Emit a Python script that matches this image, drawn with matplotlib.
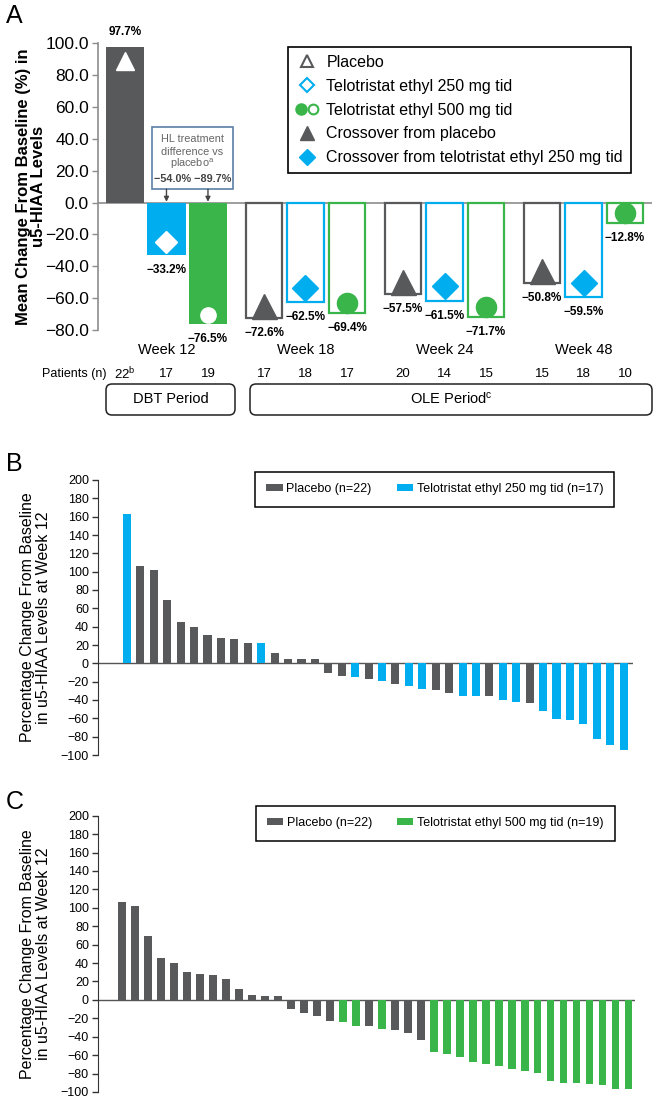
import numpy as np
import matplotlib.pyplot as plt
from matplotlib import transforms
from matplotlib.lines import Line2D
from matplotlib.patches import Patch, Rectangle, FancyBboxPatch
from matplotlib.legend_handler import HandlerTuple
from matplotlib.ticker import MultipleLocator, FuncFormatter

plt.rcParams['font.family'] = ['Liberation Sans', 'DejaVu Sans']
plt.rcParams['mathtext.default'] = 'regular'

gray = '#58595b'
blue = '#00aeef'
green = '#39b54a'

# panel A: mean change from baseline by visit
weeks = ['Week 12', 'Week 18', 'Week 24', 'Week 48']
placebo_mean = [97.7, -72.6, -57.5, -50.8]
tel250_mean = [-33.2, -62.5, -61.5, -59.5]
tel500_mean = [-76.5, -69.4, -71.7, -12.8]
patients_n = ['22$^b$', '17', '19', '17', '18', '17', '20', '14', '15', '15', '18', '10']
hl_diff = ['\u221254.0%', '\u221289.7%']
legend_a = ['Placebo', 'Telotristat ethyl 250 mg tid', 'Telotristat ethyl 500 mg tid',
            'Crossover from placebo', 'Crossover from telotristat ethyl 250 mg tid']

# panels B/C: individual patients at week 12
placebo_wf = [106, 102, 69, 45, 40, 30.5, 28, 27, 22.5, 11.5, 5, 4.3, 4.3,
              -10, -14.3, -17.5, -23, -28.6, -32.6, -36, -43.5]
tel250_wf = [163, 22.5, -15, -19, -24.4, -28.4, -35.3, -35.3, -40, -42,
             -51.6, -60.7, -61.8, -66, -83, -89, -94]
tel500_wf = [-23.9, -28.2, -31.1, -56.8, -59, -62.2, -66.9, -69.8, -72, -74.5,
             -76.7, -79.6, -87.9, -90.4, -90.4, -91.1, -92.6, -96.9, -96.9]


def fmt(v):
    return f'{v:.1f}%'.replace('-', '\u2212')


W, H = 654, 1100
fig = plt.figure(figsize=(W / 100, H / 100), dpi=100)


def px_axes(x0, x1, ytop, ybot):
    return [x0 / W, 1 - ybot / H, (x1 - x0) / W, (ybot - ytop) / H]


# ---------------- panel A
axA = fig.add_axes(px_axes(98, 652, 43.3, 330))
gap = 3.35
arms = [(placebo_mean, gray, '^'), (tel250_mean, blue, 'D'), (tel500_mean, green, 'o')]
mk_dbt = {'^': (13, 9.8), 'D': (11, 9.6), 'o': (11, 6.7)}
mk_ole = {'^': (18, 9), 'D': (13.5, 10.4), 'o': (14.5, 7.2)}
xpos = []
for g in range(len(weeks)):
    for j, (vals, col, mk) in enumerate(arms):
        x = g * gap + j
        v = vals[g]
        xpos.append(x)
        if g == 0:
            axA.bar(x, v, width=0.93, color=col, zorder=2)
            ms, sh = mk_dbt[mk]
            mfc = 'white'
        else:
            axA.bar(x, v, width=0.89, facecolor='white', edgecolor=col, linewidth=1.6, zorder=2)
            ms, sh = mk_ole[mk]
            mfc = col
        sgn = 1 if v > 0 else -1
        tr = transforms.offset_copy(axA.transData, fig=fig, y=-sgn * sh, units='points')
        axA.plot(x, v, marker=mk, ms=ms, mfc=mfc, mec=mfc, ls='none', transform=tr,
                 zorder=3, clip_on=False)
        axA.annotate(fmt(v), (x, v), xytext=(0, sgn * 10.8), textcoords='offset points',
                     ha='center', va='center', fontsize=8.5, fontweight='bold',
                     annotation_clip=False)

axA.axhline(0, color='#8c8c8c', lw=1.2, zorder=1)
axA.set_xlim(-0.65, 12.7)
axA.set_ylim(-80, 100)
axA.yaxis.set_major_locator(MultipleLocator(20))
axA.yaxis.set_major_formatter(FuncFormatter(lambda v, p: f'{v:.1f}'.replace('-', '\u2212')))
axA.tick_params(axis='y', direction='out', length=4, width=1, color='#8c8c8c',
                labelsize=12.5, pad=2.5)
axA.set_xticks([])
for s in ['top', 'right', 'bottom']:
    axA.spines[s].set_visible(False)
axA.spines['left'].set_color('#8c8c8c')
axA.spines['left'].set_linewidth(1.2)
axA.set_ylabel('Mean Change From Baseline (%) in\nu5-HIAA Levels', fontsize=12,
               fontweight='bold', linespacing=1.0)
axA.yaxis.set_label_coords(-0.094, 0.5)

# HL treatment difference box
axA.add_patch(Rectangle((0.65, 8.4), 1.95, 38.8, facecolor='white', edgecolor='#5b7fa6',
                        lw=1.2, zorder=4))
axA.text(1.62, 40, 'HL treatment', ha='center', va='center', fontsize=7.8, color='#666666', zorder=5)
axA.text(1.62, 31.6, 'difference vs', ha='center', va='center', fontsize=7.8, color='#666666', zorder=5)
axA.text(1.62, 24.1, 'placebo$^a$', ha='center', va='center', fontsize=7.8, color='#666666', zorder=5)
axA.text(1.62, 14.9, hl_diff[0] + ' ' + hl_diff[1], ha='center', va='center', fontsize=7.8,
         fontweight='bold', color='#444444', zorder=5)
for x in [1, 2]:
    axA.annotate('', xy=(x, 0.5), xytext=(x, 8.4),
                 arrowprops=dict(arrowstyle='-|>', color='#444444', lw=1, mutation_scale=7,
                                 shrinkA=0, shrinkB=0), zorder=5)

# legend A
handles = [
    Line2D([], [], ls='none', marker='^', mfc='white', mec=gray, mew=1.5, ms=9),
    Line2D([], [], ls='none', marker='D', mfc='white', mec=blue, mew=1.5, ms=7),
    (Line2D([], [], ls='none', marker='o', mfc=green, mec=green, ms=8),
     Line2D([], [], ls='none', marker='o', mfc='white', mec=green, mew=1.5, ms=7)),
    Line2D([], [], ls='none', marker='^', color=gray, ms=10),
    Line2D([], [], ls='none', marker='D', color=blue, ms=8),
]
legA = axA.legend(handles, legend_a, handler_map={tuple: HandlerTuple(ndivide=None, pad=0.1)},
                  loc='upper left', bbox_to_anchor=(0.343, 0.987), borderaxespad=0,
                  fontsize=11.5, fancybox=False, edgecolor='black', framealpha=1,
                  handlelength=1.4, handletextpad=0.5, labelspacing=0.55, borderpad=0.5)
legA.get_frame().set_linewidth(1.2)

# week / patient rows
btA = transforms.blended_transform_factory(axA.transData, axA.transAxes)
for g, wk in enumerate(weeks):
    axA.text(g * gap + 1, -0.070, wk, transform=btA, ha='center', va='center', fontsize=10.5)
axA.text(-0.45, -0.153, 'Patients (n)', transform=btA, ha='right', va='center', fontsize=9)
for x, n in zip(xpos, patients_n):
    axA.text(x, -0.153, n, transform=btA, ha='center', va='center', fontsize=9.5)

# period boxes (figure inches)
for (x0, x1, label) in [(106, 235, 'DBT Period'), (250, 652, 'OLE Period$^c$')]:
    fig.patches.append(FancyBboxPatch((x0 / 100, (H - 415) / 100), (x1 - x0) / 100, 0.31,
                                      boxstyle='round,pad=0,rounding_size=0.06',
                                      transform=fig.dpi_scale_trans, facecolor='none',
                                      edgecolor='#222222', lw=1.1))
    fig.text((x0 + x1) / 200, (H - 399) / 100, label, transform=fig.dpi_scale_trans,
             ha='center', va='center', fontsize=10.5)


# ---------------- panels B and C
def waterfall(rect, xlim, treat, tcol, tlabel, leg_top):
    ax = fig.add_axes(rect)
    vals = np.concatenate([placebo_wf, treat])
    cols = np.array([gray] * len(placebo_wf) + [tcol] * len(treat))
    order = np.argsort(-vals, kind='stable')
    ax.bar(np.arange(len(vals)), vals[order], width=0.6, color=cols[order], zorder=2)
    ax.axhline(0, color='#555555', lw=1, zorder=1)
    ax.set_xlim(*xlim)
    ax.set_ylim(-100, 200)
    ax.yaxis.set_major_locator(MultipleLocator(20))
    ax.tick_params(axis='y', direction='out', length=4.5, width=1, color='#333333',
                   labelsize=9, pad=2)
    ax.set_xticks([])
    for s in ['top', 'right', 'bottom']:
        ax.spines[s].set_visible(False)
    ax.spines['left'].set_color('#333333')
    ax.set_ylabel('Percentage Change From Baseline\nin u5-HIAA Levels at Week 12',
                  fontsize=11.5, linespacing=1.05)
    ax.yaxis.set_label_coords(-0.088, 0.5)
    leg = ax.legend([Patch(facecolor=gray), Patch(facecolor=tcol)],
                    ['Placebo (n=22)', tlabel], ncol=2, loc='upper left',
                    bbox_to_anchor=(0.2935, leg_top), borderaxespad=0, fontsize=9,
                    fancybox=False, edgecolor='black', framealpha=1, handlelength=1.3,
                    handleheight=0.5, handletextpad=0.3, columnspacing=2.0, borderpad=0.9)
    leg.get_frame().set_linewidth(1.1)
    return ax


waterfall(px_axes(98, 633, 480, 755), (-2.16, 37.7), tel250_wf, blue,
          'Telotristat ethyl 250 mg tid (n=17)', 1.029)
waterfall(px_axes(98, 635, 815.7, 1092), (-1.85, 39.5), tel500_wf, green,
          'Telotristat ethyl 500 mg tid (n=19)', 1.035)

fig.text(6 / W, 1 - 4 / H, 'A', fontsize=18, va='top', ha='left')
fig.text(6 / W, 1 - 452 / H, 'B', fontsize=18, va='top', ha='left')
fig.text(6 / W, 1 - 790 / H, 'C', fontsize=18, va='top', ha='left')

fig.savefig('out.png', dpi=100)
